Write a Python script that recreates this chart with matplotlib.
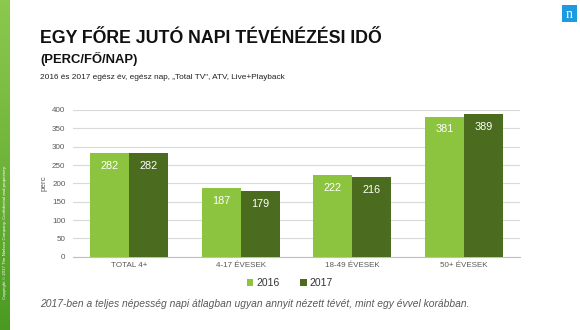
import matplotlib
matplotlib.use("Agg")
import matplotlib.pyplot as plt
import numpy as np
from matplotlib.colors import LinearSegmentedColormap

categories = ["TOTAL 4+", "4-17 ÉVESEK", "18-49 ÉVESEK", "50+ ÉVESEK"]
series_names = ["2016", "2017"]
values_2016 = [282, 187, 222, 381]
values_2017 = [282, 179, 216, 389]
yticks = [0, 50, 100, 150, 200, 250, 300, 350, 400]

plt.rcParams['font.family'] = ['Liberation Sans', 'DejaVu Sans']

W, H = 580, 330
fig = plt.figure(figsize=(W/100, H/100), dpi=100)
fig.patch.set_facecolor('white')

# left green stripe
stripe = fig.add_axes([0, 0, 10/W, 1])
grad = np.linspace(0, 1, 256).reshape(-1, 1)
cmap = LinearSegmentedColormap.from_list('g', ['#4a9a22', '#6fb43a', '#8cc94e'])
stripe.imshow(grad, aspect='auto', cmap=cmap, extent=[0, 1, 0, 1], origin='lower')
stripe.set_axis_off()
fig.text(5/W, 1 - 232/H, "Copyright © 2017 The Nielsen Company. Confidential and proprietary.",
         rotation=90, color='white', fontsize=3.2, ha='center', va='center')

# nielsen logo
logo = fig.add_axes([562/W, 1 - 22/H, 15/W, 17/H])
logo.set_facecolor('#1e9be0')
logo.set_xticks([]); logo.set_yticks([])
for s in logo.spines.values():
    s.set_visible(False)
logo.text(0.5, 0.45, "n", color='white', fontsize=10, ha='center', va='center',
          family='Liberation Serif', transform=logo.transAxes)

# titles
fig.text(40/W, 1 - 43/H, "EGY FŐRE JUTÓ NAPI TÉVÉNÉZÉSI IDŐ", fontsize=12.8,
         fontweight='bold', ha='left', va='baseline', color='#111111')
fig.text(40/W, 1 - 63/H, "(PERC/FŐ/NAP)", fontsize=9.4, fontweight='bold',
         ha='left', va='baseline', color='#111111')
fig.text(40/W, 1 - 79/H, "2016 és 2017 egész év, egész nap, „Total TV\", ATV, Live+Playback",
         fontsize=5.95, ha='left', va='baseline', color='#222222')

ax = fig.add_axes([73/W, 1 - 256.7/H, (520 - 73)/W, (256.7 - 110)/H])
x = np.arange(len(categories))
bw = 0.35
c16, c17 = '#8cc43f', '#4b6b1f'
b1 = ax.bar(x - bw/2, values_2016, bw, color=c16, label=series_names[0], zorder=3)
b2 = ax.bar(x + bw/2, values_2017, bw, color=c17, label=series_names[1], zorder=3)
for bars, vals in ((b1, values_2016), (b2, values_2017)):
    for r, v in zip(bars, vals):
        ax.annotate(str(v), (r.get_x() + r.get_width()/2, v), xytext=(0, -9),
                    textcoords='offset points', ha='center', va='center',
                    color='white', fontsize=7.8)
ax.set_xlim(-0.5, 3.5)
ax.set_ylim(0, 400)
ax.set_yticks(yticks)
ax.set_xticks(x)
ax.set_xticklabels(categories)
ax.grid(axis='y', color='#d9d9d9', linewidth=0.8, zorder=0)
for s in ['top', 'right', 'left']:
    ax.spines[s].set_visible(False)
ax.spines['bottom'].set_color('#bfbfbf')
ax.spines['bottom'].set_linewidth(0.8)
ax.tick_params(axis='both', length=0, labelsize=5.8, colors='#595959', pad=4)
ax.tick_params(axis='y', pad=5.5)
ax.set_ylabel("perc", fontsize=5.8, color='#595959', labelpad=3)
ax.set_axisbelow(True)

leg = fig.legend(handles=[b1, b2], labels=series_names, loc='center',
                 bbox_to_anchor=(290/W, 1 - 283/H), ncol=2, frameon=False,
                 fontsize=7.5, handlelength=0.6, handleheight=0.6, columnspacing=2.0,
                 handletextpad=0.3, labelcolor='#333333')

fig.text(40/W, 1 - 304/H,
         "2017-ben a teljes népesség napi átlagban ugyan annyit nézett tévét, mint egy évvel korábban.",
         fontsize=7.4, style='italic', color='#595959', ha='left', va='center')

fig.savefig("out.png", dpi=100)
